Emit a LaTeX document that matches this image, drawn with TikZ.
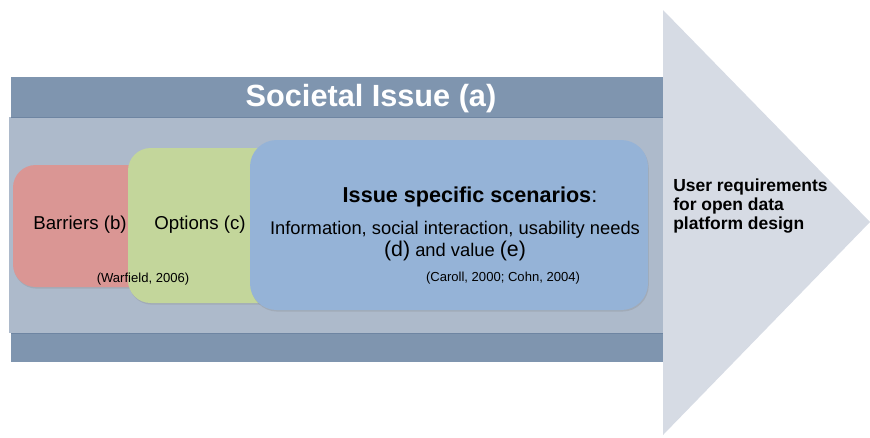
\documentclass[tikz,border=0pt]{standalone}
\usepackage{fontspec}
\setmainfont{Liberation Sans}
\usetikzlibrary{shadows}

\begin{document}
\begin{tikzpicture}[x=0.75pt,y=0.75pt,yscale=-1,xscale=1,
  band/.style={color={rgb, 255:red, 127; green, 149; blue, 175 }},
  card/.style={rounded corners=17pt, drop shadow={opacity=0.25, shadow xshift=0.6pt, shadow yshift=-1.2pt}},
  cite/.style={inner sep=0.75pt, font=\fontsize{9.8}{11}\selectfont}]
\useasboundingbox (0,0) rectangle (870,437);

%Shape: Triangle [arrow head]
\fill  [color={rgb, 255:red, 214; green, 219; blue, 228 }] (663,10) -- (870,222) -- (663,435) -- cycle ;
%Shape: Rectangle [panel]
\fill  [color={rgb, 255:red, 173; green, 186; blue, 203 }] (9,117) rectangle (663,333) ;
%Shape: Rectangle [header]
\fill  [band] (11,77) rectangle (663,117) ;
\draw  [color={rgb, 255:red, 110; green, 133; blue, 162 }, line width=0.6] (11,117) -- (663,117) ;
%Shape: Rectangle [footer]
\fill  [band] (11,333) rectangle (663,362) ;
\draw  [color={rgb, 255:red, 110; green, 133; blue, 162 }, line width=0.6] (11,333) -- (663,333) ;

%Shape: Rounded Rect [barriers]
\fill  [card, color={rgb, 255:red, 218; green, 150; blue, 148 }] (13,165) rectangle (170,287) ;
%Shape: Rounded Rect [options]
\fill  [card, color={rgb, 255:red, 195; green, 214; blue, 155 }] (128,148) rectangle (290,303) ;
%Shape: Rounded Rect [scenarios]
\fill  [card, rounded corners=20pt, color={rgb, 255:red, 149; green, 179; blue, 215 }] (250,140) rectangle (648,310) ;

% Text Node
\node (title) at (371,99) [inner sep=0.75pt, color=white, font=\bfseries\fontsize{23}{27}\selectfont] {Societal Issue (a)};
% Text Node
\node (barriers) at (80,225) [inner sep=0.75pt, font=\fontsize{14}{17}\selectfont] {Barriers (b)};
% Text Node
\node (options) at (200,225) [inner sep=0.75pt, font=\fontsize{14}{17}\selectfont] {Options (c)};
% Text Node
\node (warfield) at (143,279) [cite] {(Warfield, 2006)};
% Text Node
\node (scenarios) at (470,197) [inner sep=0.75pt, font=\fontsize{16.2}{19}\selectfont] {\textbf{Issue specific scenarios}:};
% Text Node
\node (needs) at (455,230) [inner sep=0.75pt, font=\fontsize{13.75}{16}\selectfont] {Information, social interaction, usability needs};
% Text Node
\node (value) at (455,251) [inner sep=0.75pt, font=\fontsize{13.75}{16}\selectfont] {{\fontsize{16}{18}\selectfont(d)} and value {\fontsize{16}{18}\selectfont(e)}};
% Text Node
\node (caroll) at (503,278) [cite] {(Caroll, 2000; Cohn, 2004)};
% Text Node
\node (requirements) at (672,206) [anchor=west, inner sep=0.75pt, align=left, font=\bfseries\fontsize{13.1}{14.4}\selectfont] {User requirements\\for open data\\platform design};

\end{tikzpicture}
\end{document}
